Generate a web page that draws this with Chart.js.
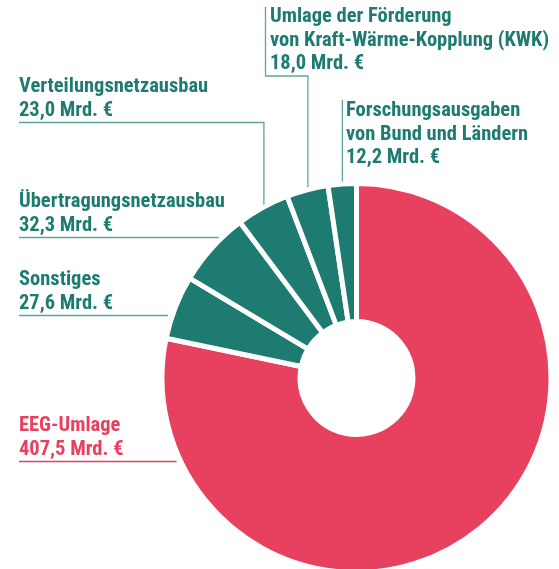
<!DOCTYPE html>
<html lang="de">
<head>
<meta charset="utf-8">
<title>Kosten</title>
<script src="https://cdn.jsdelivr.net/npm/chart.js@4.4.1/dist/chart.umd.min.js"></script>
<style>
  html, body { margin: 0; padding: 0; background: #fff; }
  #wrap { width: 559px; height: 569px; }
</style>
</head>
<body>
<div id="wrap"><canvas id="chart" width="559" height="569"></canvas></div>
<script>
// data (Mrd. €), clockwise from 12 o'clock
var categories = ['EEG-Umlage', 'Sonstiges', 'Übertragungsnetzausbau', 'Verteilungsnetzausbau',
                  'Umlage der Förderung von Kraft-Wärme-Kopplung (KWK)', 'Forschungsausgaben von Bund und Ländern'];
var labelLines = [
    ['EEG-Umlage'],
    ['Sonstiges'],
    ['Übertragungsnetzausbau'],
    ['Verteilungsnetzausbau'],
    ['Umlage der Förderung', 'von Kraft-Wärme-Kopplung (KWK)'],
    ['Forschungsausgaben', 'von Bund und Ländern']
];
var amounts = [407.5, 27.6, 32.3, 23.0, 18.0, 12.2];

var PINK = '#e8405f',
    TEAL = '#1d7b72',
    LINE_TEAL = '#5fa59e';
var sliceColors = [PINK, TEAL, TEAL, TEAL, TEAL, TEAL];

// where each label sits and how its leader line runs
var labelLayout = [
    { x: 19, y: 431, kind: 'left' },
    { x: 19, y: 285, kind: 'left' },
    { x: 19, y: 207, kind: 'left' },
    { x: 19, y: 92, kind: 'elbow' },
    { x: 270, y: 22, kind: 'top', bar: 265.5, barTop: 7, barBottom: 76 },
    { x: 346, y: 116, kind: 'drop', top: 100 }
];

var FONT = 'bold 20.5px "Liberation Sans Narrow", "Roboto Condensed", "DejaVu Sans Condensed", sans-serif';
var LINE_H = 23.5;
var BORDER = 5;

function fmt(v) {
    return v.toFixed(1).replace('.', ',') + ' Mrd. €';
}

var leaderLabels = {
    id: 'leaderLabels',
    afterDraw: function(chart) {
        var ctx = chart.ctx,
            meta = chart.getDatasetMeta(0);

        ctx.save();
        ctx.font = FONT;
        ctx.textBaseline = 'alphabetic';
        ctx.textAlign = 'left';
        ctx.lineWidth = 1.3;

        meta.data.forEach(function(arc, i) {
            var p = arc.getProps(['x', 'y', 'startAngle', 'endAngle', 'outerRadius'], true),
                r = p.outerRadius - BORDER / 2,
                mid = (p.startAngle + p.endAngle) / 2,
                px = p.x + r * Math.cos(mid),
                lay = labelLayout[i],
                lines = labelLines[i].concat([fmt(amounts[i])]),
                color = sliceColors[i];

            ctx.fillStyle = color;
            lines.forEach(function(t, k) {
                ctx.fillText(t, lay.x, lay.y + k * LINE_H);
            });

            var underY = Math.round(lay.y + (lines.length - 1) * LINE_H + 6) + 0.5;
            var topY = p.y - Math.sqrt(r * r - (px - p.x) * (px - p.x)) - 5;

            ctx.strokeStyle = color === PINK ? PINK : LINE_TEAL;
            ctx.beginPath();
            if (lay.kind === 'left') {
                var dy = underY - p.y;
                var edgeX = p.x - Math.sqrt(r * r - dy * dy) - 7;
                ctx.moveTo(lay.x, underY);
                ctx.lineTo(edgeX, underY);
            } else if (lay.kind === 'elbow') {
                ctx.moveTo(lay.x, underY);
                ctx.lineTo(px, underY);
                ctx.lineTo(px, topY);
            } else if (lay.kind === 'top') {
                ctx.moveTo(lay.bar, lay.barTop);
                ctx.lineTo(lay.bar, lay.barBottom);
                ctx.lineTo(px, lay.barBottom);
                ctx.lineTo(px, topY);
            } else {
                ctx.moveTo(px, lay.top);
                ctx.lineTo(px, topY);
            }
            ctx.stroke();
        });

        ctx.restore();
    }
};

var chart = new Chart(document.getElementById('chart').getContext('2d'), {
    type: 'doughnut',
    data: {
        labels: categories,
        datasets: [{
            data: amounts,
            backgroundColor: sliceColors,
            borderColor: '#ffffff',
            borderWidth: BORDER
        }]
    },
    options: {
        responsive: false,
        animation: false,
        radius: 194.5,
        cutout: '29%',
        layout: { padding: { left: 160, right: 6, top: 187, bottom: 0 } },
        plugins: {
            legend: { display: false },
            tooltip: { enabled: false }
        }
    },
    plugins: [leaderLabels]
});
</script>
</body>
</html>
